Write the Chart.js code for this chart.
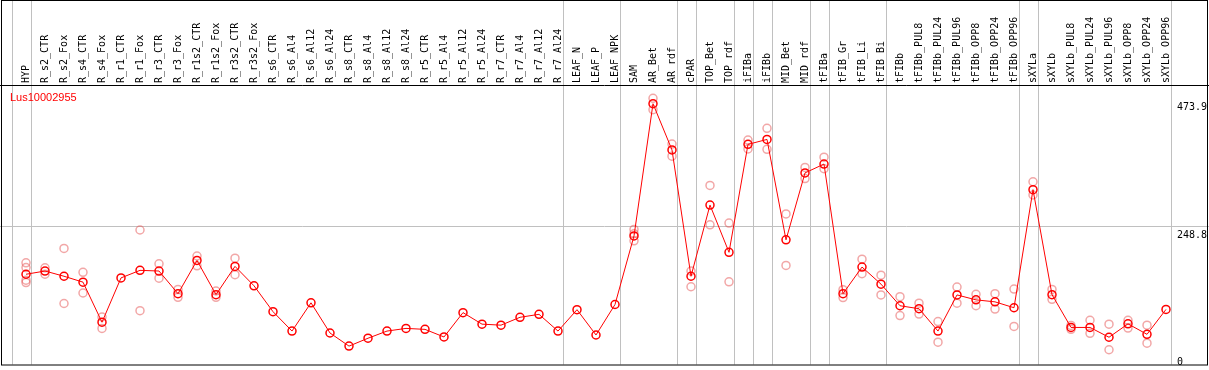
<!DOCTYPE html>
<html>
<head>
<meta charset="utf-8">
<script src="https://cdn.jsdelivr.net/npm/chart.js@4/dist/chart.umd.min.js"></script>
<style>
  body { margin: 0; background: #fff; overflow: hidden; }
</style>
</head>
<body>
<canvas id="chart" width="1209" height="370"></canvas>
<script>
"use strict";

const seriesName = "Lus10002955";

const samples = [
    "HYP", "R_s2_CTR", "R_s2_Fox", "R_s4_CTR", "R_s4_Fox", "R_r1_CTR", "R_r1_Fox", "R_r3_CTR", "R_r3_Fox",
    "R_r1s2_CTR", "R_r1s2_Fox", "R_r3s2_CTR", "R_r3s2_Fox", "R_s6_CTR", "R_s6_Al4", "R_s6_Al12", "R_s6_Al24",
    "R_s8_CTR", "R_s8_Al4", "R_s8_Al12", "R_s8_Al24", "R_r5_CTR", "R_r5_Al4", "R_r5_Al12", "R_r5_Al24",
    "R_r7_CTR", "R_r7_Al4", "R_r7_Al12", "R_r7_Al24", "LEAF_N", "LEAF_P", "LEAF_NPK", "SAM", "AR_Bet", "AR_rdf",
    "cPAR", "TOP_Bet", "TOP_rdf", "iFIBa", "iFIBb", "MID_Bet", "MID_rdf", "tFIBa", "tFIB_Gr", "tFIB_Li", "tFIB_Bi",
    "tFIBb", "tFIBb_PUL8", "tFIBb_PUL24", "tFIBb_PUL96", "tFIBb_OPP8", "tFIBb_OPP24", "tFIBb_OPP96",
    "sXYLa", "sXYLb", "sXYLb_PUL8", "sXYLb_PUL24", "sXYLb_PUL96", "sXYLb_OPP8", "sXYLb_OPP24", "sXYLb_OPP96"
];

// mean expression per sample
const means = [
    163.9, 169.6, 160.4, 150.0, 79.4, 157.5, 170.8, 169.6, 129.7,
    188.2, 128.0, 177.8, 143.6, 98.0, 63.8, 113.6, 60.4,
    37.3, 51.2, 63.8, 68.5, 66.8, 53.4, 96.3, 76.0,
    74.2, 88.1, 93.3, 63.8, 101.5, 56.9, 110.6, 231.5, 464.4, 382.9,
    160.4, 285.8, 202.6, 392.8, 401.5, 224.6, 342.5, 358.1, 129.7, 176.6, 146.5,
    108.4, 103.2, 63.8, 127.5, 118.8, 115.3, 104.9,
    313.0, 128.0, 70.2, 70.2, 52.9, 76.5, 58.1, 102.0
];

// individual replicates per sample
const replicates = [
    [184.0, 175.7, 153.5, 149.3], [175.3, 163.9], [209.5, 112.4], [167.4, 130.9], [88.6, 68.5], [],
    [241.9, 99.7], [182.3, 157.0], [137.2, 123.3], [196.1, 178.8], [134.4, 123.3], [192.2, 163.2], [],
    [], [], [], [], [], [], [], [], [], [], [], [], [], [], [], [], [], [], [],
    [243.0, 235.5, 222.9], [473.9, 454.0], [393.3, 372.0], [169.6, 141.9], [320.5, 251.1], [254.1, 150.5],
    [400.3, 384.7], [421.1, 384.1], [270.2, 179.5], [352.2, 332.6], [370.3, 350.0], [136.7, 122.8],
    [190.4, 164.9], [162.2, 127.5], [124.5, 91.1], [112.9, 93.8], [80.6, 44.2], [141.3, 112.9],
    [128.5, 108.4], [129.7, 102.5], [137.9, 72.0], [326.9, 303.7], [137.2, 119.8], [73.7, 66.8],
    [82.9, 59.8], [76.0, 30.9], [82.9, 69.0], [74.2, 42.5], []
];

// index of the last sample in each group (-1 = left edge)
const groupEnds = [-1, 0, 28, 31, 34, 35, 37, 38, 39, 41, 42, 45, 52, 53, 60];

const yTicks = [473.9, 248.8, 0];
const yGrid = [248.8];

const repPoints = [];
replicates.forEach((reps, i) => {
    reps.forEach(v => repPoints.push({ x: samples[i], y: v }));
});

const monoFont = "10px 'DejaVu Sans Mono', monospace";

const framePlugin = {
    id: "frame",
    beforeDatasetsDraw(chart) {
        const ctx = chart.ctx;
        const xs = chart.scales.x;
        const ys = chart.scales.y;
        const area = chart.chartArea;
        const step = xs.getPixelForValue(1) - xs.getPixelForValue(0);
        ctx.save();
        ctx.strokeStyle = "#c0c0c0";
        ctx.lineWidth = 1;
        groupEnds.forEach(i => {
            const x = Math.round(xs.getPixelForValue(0) + step * i + step * 0.24) + 0.5;
            ctx.beginPath();
            ctx.moveTo(x, 0);
            ctx.lineTo(x, area.bottom);
            ctx.stroke();
        });
        yGrid.forEach(v => {
            const y = Math.round(ys.getPixelForValue(v)) + 0.5;
            ctx.beginPath();
            ctx.moveTo(0, y);
            ctx.lineTo(chart.width, y);
            ctx.stroke();
        });
        ctx.restore();
    },
    afterDraw(chart) {
        const ctx = chart.ctx;
        const ys = chart.scales.y;
        const area = chart.chartArea;
        ctx.save();
        ctx.strokeStyle = "#000";
        ctx.lineWidth = 1;
        ctx.strokeRect(1.5, 0.5, chart.width - 3, area.bottom);
        ctx.beginPath();
        ctx.moveTo(0, Math.round(area.top) + 0.5);
        ctx.lineTo(chart.width, Math.round(area.top) + 0.5);
        ctx.stroke();

        ctx.font = monoFont;
        ctx.fillStyle = "#000";
        ctx.textAlign = "left";
        ctx.textBaseline = "top";
        yTicks.forEach(v => {
            const y = Math.min(ys.getPixelForValue(v) + 4, area.bottom - 7);
            ctx.fillText(String(v), area.right + 1.5, y);
        });

        ctx.font = "11px 'Liberation Sans', Arial, sans-serif";
        ctx.fillStyle = "#ff0000";
        ctx.textBaseline = "middle";
        ctx.fillText(seriesName, 10, area.top + 13);
        ctx.restore();
    }
};

new Chart(document.getElementById("chart"), {
    type: "line",
    data: {
        labels: samples,
        datasets: [{
            label: seriesName,
            data: means,
            borderColor: "#ff0000",
            borderWidth: 1,
            tension: 0,
            pointRadius: 4,
            pointBorderWidth: 1.5,
            pointBorderColor: "#ff0000",
            pointBackgroundColor: "rgba(0,0,0,0)",
            order: 1
        }, {
            label: "replicates",
            data: repPoints,
            showLine: false,
            pointRadius: 4,
            pointBorderWidth: 1.5,
            pointBorderColor: "rgba(230,80,80,0.5)",
            pointBackgroundColor: "rgba(0,0,0,0)",
            order: 2
        }]
    },
    options: {
        responsive: false,
        animation: false,
        layout: {
            padding: { left: 16.5, right: 33.5, top: 0, bottom: 1 }
        },
        plugins: {
            legend: { display: false },
            tooltip: { enabled: false }
        },
        scales: {
            x: {
                type: "category",
                position: "top",
                offset: true,
                grid: { display: false, drawTicks: false },
                border: { display: false },
                ticks: {
                    autoSkip: false,
                    minRotation: 90,
                    maxRotation: 90,
                    padding: 2,
                    labelOffset: 12,
                    color: "#000",
                    font: { family: "'DejaVu Sans Mono', monospace", size: 10 }
                },
                afterFit(scale) {
                    scale.height = 85;
                }
            },
            y: {
                display: false,
                min: 4.9,
                max: 497.4
            }
        }
    },
    plugins: [framePlugin]
});
</script>
</body>
</html>
